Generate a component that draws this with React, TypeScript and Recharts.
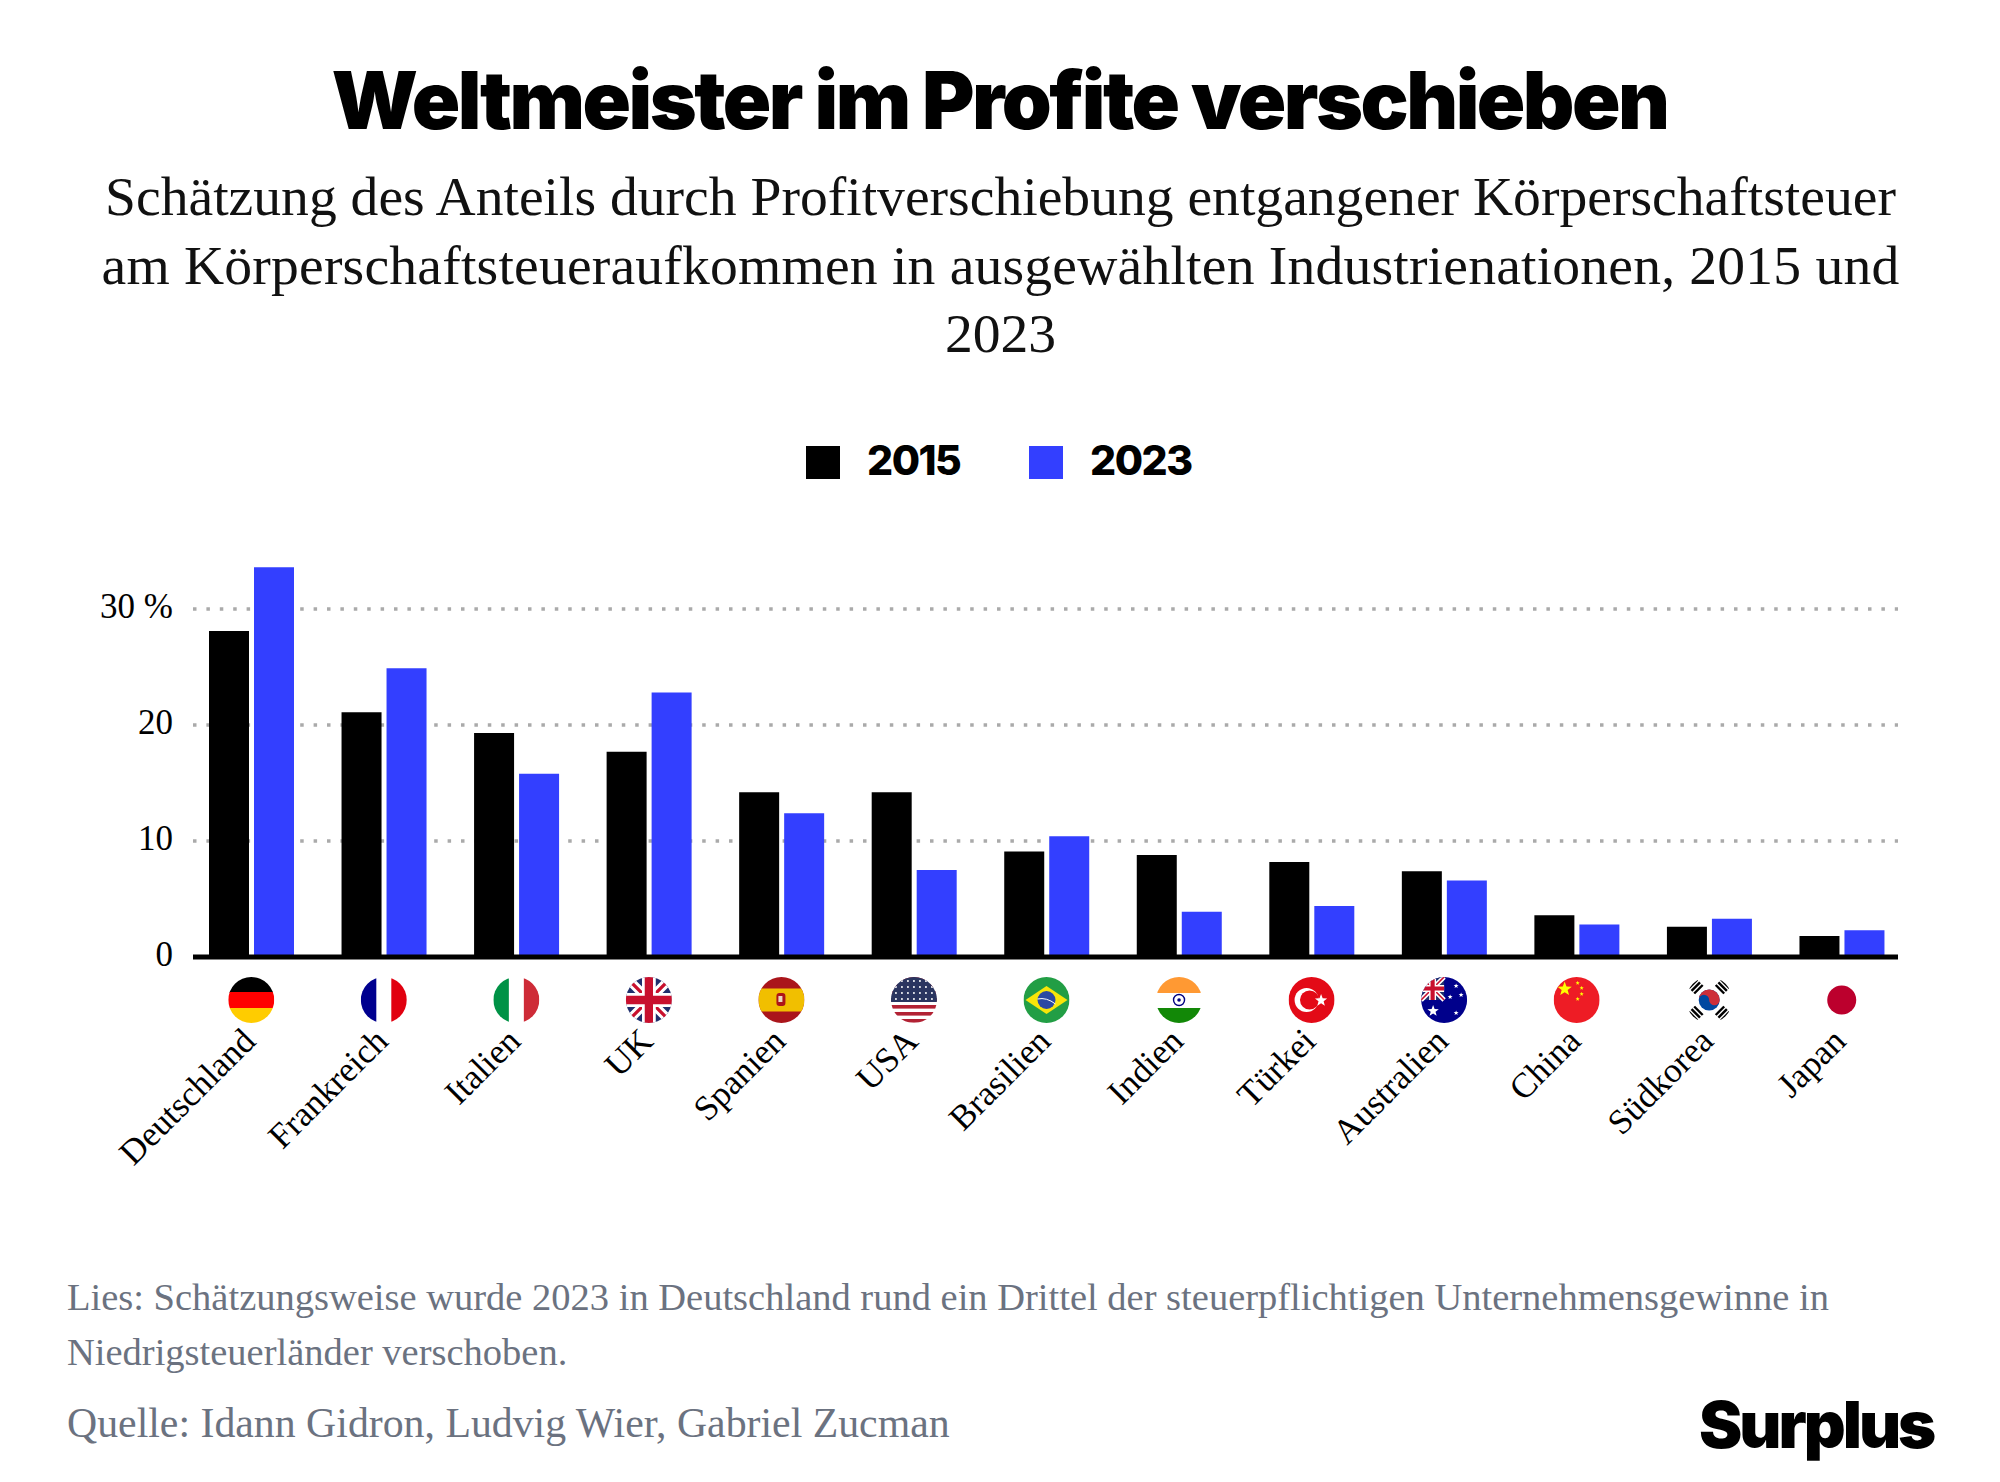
import { BarChart, Bar, XAxis, YAxis, CartesianGrid, Legend } from "recharts";

const countries = ["Deutschland", "Frankreich", "Italien", "UK", "Spanien", "USA", "Brasilien", "Indien", "Türkei", "Australien", "China", "Südkorea", "Japan"];
const values2015 = [28.1, 21.1, 19.3, 17.7, 14.2, 14.2, 9.1, 8.8, 8.2, 7.4, 3.6, 2.6, 1.8];
const values2023 = [33.6, 24.9, 15.8, 22.8, 12.4, 7.5, 10.4, 3.9, 4.4, 6.6, 2.8, 3.3, 2.3];
const yTicks = [0, 10, 20, 30];
const gridValues = [10, 20, 30];

const SERIF = '"Liberation Serif", serif';
const SANS = 'Inter, sans-serif';
const BLUE = "#333fff";
const GREY = "#6b7280";

// dots stop a little before the end of the axis line
const GRID_DASH = Array(127).fill("3.5 9.9").join(" ") + " 3.5 300";

const chartData = countries.map((name, i) => ({ name, y2015: values2015[i], y2023: values2023[i] }));

function UnionJack({ w = 46, h = 46 }: { w?: number; h?: number }) {
  return (
    <g>
      <rect x={-w / 2} y={-h / 2} width={w} height={h} fill="#1f2f6d" />
      <path d={`M${-w / 2} ${-h / 2}L${w / 2} ${h / 2}M${w / 2} ${-h / 2}L${-w / 2} ${h / 2}`} stroke="#fff" strokeWidth={h * 0.2} />
      <path d={`M${-w / 2} ${-h / 2}L${w / 2} ${h / 2}M${w / 2} ${-h / 2}L${-w / 2} ${h / 2}`} stroke="#c8102e" strokeWidth={h * 0.07} />
      <path d={`M0 ${-h / 2}V${h / 2}M${-w / 2} 0H${w / 2}`} stroke="#fff" strokeWidth={h * 0.3} />
      <path d={`M0 ${-h / 2}V${h / 2}M${-w / 2} 0H${w / 2}`} stroke="#c8102e" strokeWidth={h * 0.18} />
    </g>
  );
}

function Star({ x, y, r, fill = "#fff" }: { x: number; y: number; r: number; fill?: string }) {
  const pts = [];
  for (let i = 0; i < 10; i++) {
    const a = -Math.PI / 2 + (i * Math.PI) / 5;
    const rr = i % 2 ? r * 0.42 : r;
    pts.push(`${x + rr * Math.cos(a)},${y + rr * Math.sin(a)}`);
  }
  return <polygon points={pts.join(" ")} fill={fill} />;
}

function Trigram({ a }: { a: number }) {
  return (
    <g transform={`rotate(${a}) translate(0 -19)`}>
      <rect x={-6} y={-5} width={12} height={2.4} fill="#000" />
      <rect x={-6} y={-1.2} width={12} height={2.4} fill="#000" />
      <rect x={-6} y={2.6} width={12} height={2.4} fill="#000" />
    </g>
  );
}

// flag artwork, drawn around 0,0 and clipped to a circle of radius 23
function Flag({ name }: { name: string }) {
  switch (name) {
    case "Deutschland":
      return (
        <g>
          <rect x={-23} y={-23} width={46} height={16} fill="#000" />
          <rect x={-23} y={-8} width={46} height={16} fill="#f00" />
          <rect x={-23} y={8} width={46} height={15} fill="#fc0" />
        </g>
      );
    case "Frankreich":
      return (
        <g>
          <rect x={-23} y={-23} width={15.5} height={46} fill="#00008f" />
          <rect x={7.5} y={-23} width={15.5} height={46} fill="#e1000f" />
        </g>
      );
    case "Italien":
      return (
        <g>
          <rect x={-23} y={-23} width={15.5} height={46} fill="#009246" />
          <rect x={7.5} y={-23} width={15.5} height={46} fill="#ce2b37" />
        </g>
      );
    case "UK":
      return <UnionJack />;
    case "Spanien":
      return (
        <g>
          <rect x={-23} y={-23} width={46} height={46} fill="#aa151b" />
          <rect x={-23} y={-11.5} width={46} height={23} fill="#f1bf00" />
          <rect x={-5} y={-7} width={9} height={13} rx={3} fill="#ad1519" />
          <rect x={-3} y={-4} width={4} height={6} fill="#e8d9c0" />
        </g>
      );
    case "USA":
      return (
        <g>
          <rect x={-23} y={-23} width={46} height={46} fill="#fff" />
          {[-23, -16, -9, -2, 5, 12, 19].map((y) => (
            <rect key={y} x={-23} y={y} width={46} height={3.6} fill="#b22234" />
          ))}
          <rect x={-23} y={-23} width={46} height={25} fill="#2a3560" />
          {[-19, -13, -7, -1].map((y) =>
            [-18, -12, -6, 0, 6, 12, 18].map((x) => <circle key={`${x}${y}`} cx={x} cy={y} r={1} fill="#fff" />)
          )}
        </g>
      );
    case "Brasilien":
      return (
        <g>
          <rect x={-23} y={-23} width={46} height={46} fill="#229e45" />
          <polygon points="-21,0 0,-14 21,0 0,14" fill="#f8e509" />
          <circle r={9} fill="#2b49a3" />
          <path d="M-9 -1Q0 -3 9 4" stroke="#fff" strokeWidth={1} fill="none" />
        </g>
      );
    case "Indien":
      return (
        <g>
          <rect x={-23} y={-23} width={46} height={16} fill="#f93" />
          <rect x={-23} y={8} width={46} height={15} fill="#128807" />
          <circle r={5.5} fill="none" stroke="#000080" strokeWidth={1.4} />
          <circle r={1.8} fill="#000080" />
        </g>
      );
    case "Türkei":
      return (
        <g>
          <rect x={-23} y={-23} width={46} height={46} fill="#e30a17" />
          <circle cx={-5} r={12} fill="#fff" />
          <circle cx={-2} r={9.6} fill="#e30a17" />
          <Star x={9.5} y={0.5} r={6.4} />
        </g>
      );
    case "Australien":
      return (
        <g>
          <rect x={-23} y={-23} width={46} height={46} fill="#00008b" />
          <g transform="translate(-11.5 -11.5)">
            <UnionJack w={23} h={23} />
          </g>
          <Star x={-11} y={11} r={6} />
          <Star x={12} y={-14} r={2.6} />
          <Star x={6} y={-3} r={2.6} />
          <Star x={17} y={-5} r={2.6} />
          <Star x={12} y={13} r={2.6} />
        </g>
      );
    case "China":
      return (
        <g>
          <rect x={-23} y={-23} width={46} height={46} fill="#ee1c25" />
          <Star x={-12} y={-11} r={7.5} fill="#ff0" />
          <Star x={1} y={-17} r={2.2} fill="#ff0" />
          <Star x={5} y={-12} r={2.2} fill="#ff0" />
          <Star x={5} y={-6} r={2.2} fill="#ff0" />
          <Star x={1} y={-1} r={2.2} fill="#ff0" />
        </g>
      );
    case "Südkorea":
      return (
        <g>
          <rect x={-23} y={-23} width={46} height={46} fill="#fff" />
          <circle r={10.5} fill="#0047a0" />
          <path d="M-10.5 0A10.5 10.5 0 0 1 10.5 0A5.25 5.25 0 0 1 0 0A5.25 5.25 0 0 0 -10.5 0Z" fill="#cd2e3a" />
          <Trigram a={-45} />
          <Trigram a={45} />
          <Trigram a={135} />
          <Trigram a={225} />
        </g>
      );
    default:
      return <circle r={14.5} fill="#bc002d" />;
  }
}

function CountryTick({ x, payload, index }: any) {
  const clipId = `flag-${index}`;
  return (
    <g>
      <g transform={`translate(${x} 1000)`}>
        <clipPath id={clipId}>
          <circle r={23} />
        </clipPath>
        <g clipPath={`url(#${clipId})`}>
          <Flag name={payload.value} />
        </g>
      </g>
      <text
        x={x + 6}
        y={1043}
        transform={`rotate(-45 ${x + 6} 1043)`}
        textAnchor="end"
        fontFamily={SERIF}
        fontSize={35}
        fill="#000"
      >
        {payload.value}
      </text>
    </g>
  );
}

function YearLegend({ payload }: any) {
  return (
    <div style={{ display: "flex", alignItems: "center" }}>
      {payload.map((p: any) => (
        <div key={p.value} style={{ display: "flex", alignItems: "center", width: 223 }}>
          <span style={{ width: 34, height: 33, background: p.color, marginRight: 27, position: "relative", top: 2.5 }} />
          <span style={{ fontFamily: SANS, fontWeight: 800, fontSize: 41, letterSpacing: -1.5, color: "#000" }}>{p.value}</span>
        </div>
      ))}
    </div>
  );
}

export default function App() {
  return (
    <div style={{ position: "absolute", left: 0, top: 0, width: 2000, height: 1482, background: "#fff", overflow: "hidden" }}>
      <div style={{ position: "absolute", left: 0, width: 1999, top: 50, textAlign: "center", fontFamily: SANS, fontWeight: 900, fontSize: 80, letterSpacing: -2.5, lineHeight: "100px", color: "#000" }}>
        Weltmeister im Profite verschieben
      </div>
      <div style={{ position: "absolute", left: 0, width: 2001, top: 162, textAlign: "center", fontFamily: SERIF, fontSize: 55.6, lineHeight: "68.5px", color: "#111" }}>
        Schätzung des Anteils durch Profitverschiebung entgangener Körperschaftsteuer
        <br />
        <span style={{ letterSpacing: 0.2 }}>am Körperschaftsteueraufkommen in ausgewählten Industrienationen, 2015 und</span>
        <br />
        2023
      </div>

      <div style={{ position: "absolute", left: 0, top: 0 }}>
        <BarChart
          width={2000}
          height={1482}
          data={chartData}
          barSize={40}
          barGap={5}
          margin={{ top: 551, right: 102, bottom: 325, left: 93 }}
        >
          <CartesianGrid vertical={false} horizontalValues={gridValues} stroke="#aaa" strokeWidth={3.5} strokeDasharray={GRID_DASH} />
          <XAxis
            dataKey="name"
            interval={0}
            height={200}
            padding={{ left: -8, right: -10 }}
            axisLine={{ stroke: "#000", strokeWidth: 5 }}
            tickLine={false}
            tick={<CountryTick />}
          />
          <YAxis
            width={100}
            domain={[0, 35]}
            ticks={yTicks}
            axisLine={false}
            tickLine={false}
            tickSize={0}
            tickMargin={20}
            tick={{ fontFamily: SERIF, fontSize: 35, fill: "#000", dy: -3 }}
            tickFormatter={(v: number) => (v === 30 ? "30 %" : `${v}`)}
          />
          <Legend
            layout="horizontal"
            verticalAlign="middle"
            align="center"
            wrapperStyle={{ top: 435, left: 806, width: 460, height: 48 }}
            content={<YearLegend />}
          />
          <Bar dataKey="y2015" name="2015" fill="#000" isAnimationActive={false} />
          <Bar dataKey="y2023" name="2023" fill={BLUE} isAnimationActive={false} />
        </BarChart>
      </div>

      <div style={{ position: "absolute", left: 67, width: 1840, top: 1270, fontFamily: SERIF, fontSize: 38.5, lineHeight: "55px", color: GREY }}>
        Lies: Schätzungsweise wurde 2023 in Deutschland rund ein Drittel der steuerpflichtigen Unternehmensgewinne in Niedrigsteuerländer verschoben.
      </div>
      <div style={{ position: "absolute", left: 67, top: 1396, fontFamily: SERIF, fontSize: 41.8, lineHeight: "55px", color: GREY }}>
        Quelle: Idann Gidron, Ludvig Wier, Gabriel Zucman
      </div>
      <div style={{ position: "absolute", left: 1699, top: 1390, fontFamily: SANS, fontWeight: 900, fontSize: 65, letterSpacing: -3, lineHeight: "70px", color: "#000" }}>
        Surplus
      </div>
    </div>
  );
}
